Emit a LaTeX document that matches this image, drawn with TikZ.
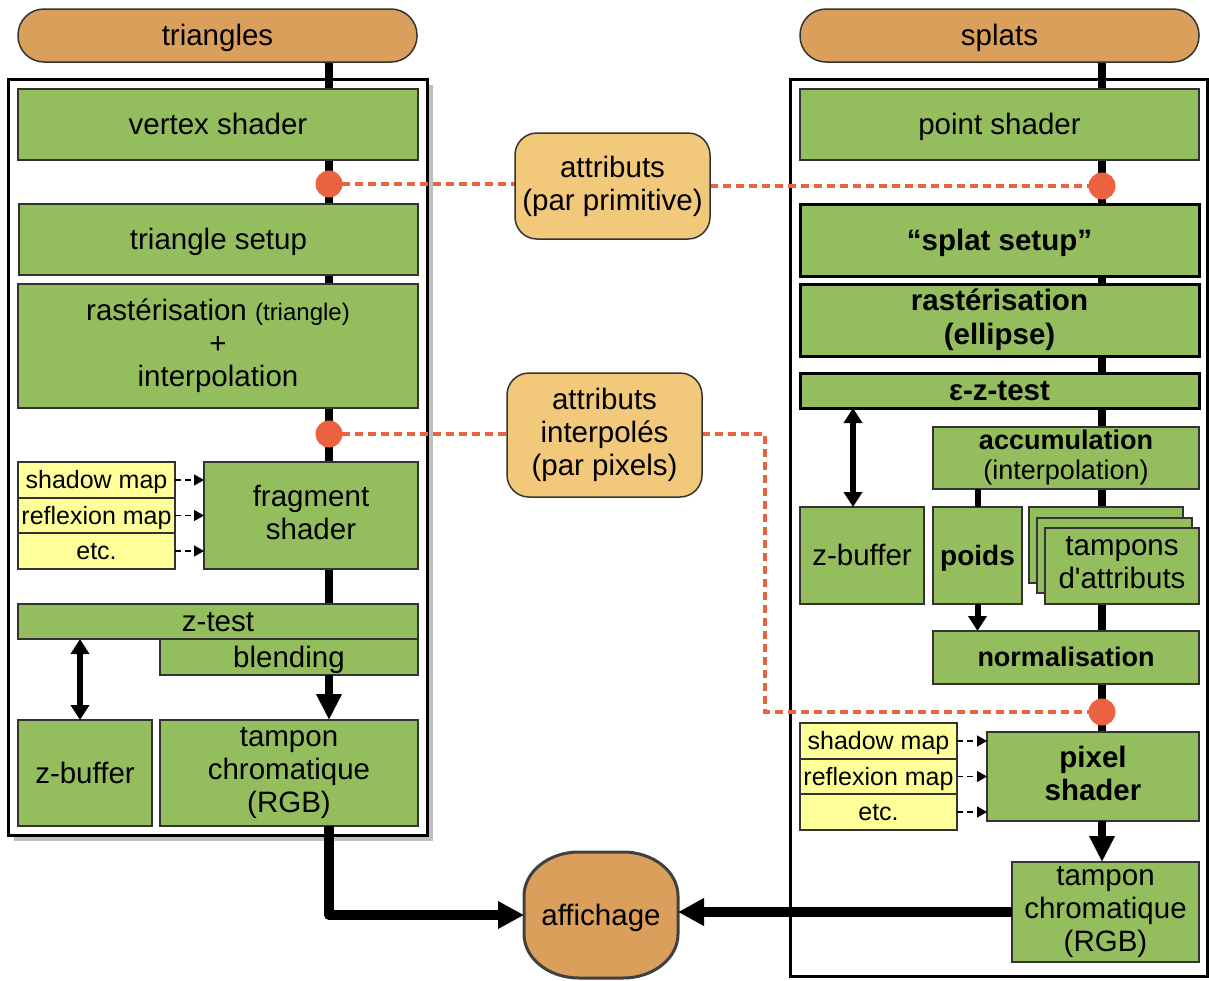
\documentclass[tikz,border=0pt]{standalone}
\usepackage{fontspec}
\setmainfont{Liberation Sans}
\usetikzlibrary{arrows.meta}
\definecolor{boxgreen}{RGB}{148,189,94}
\definecolor{pillorange}{RGB}{217,159,91}
\definecolor{notecolor}{RGB}{242,200,122}
\definecolor{mapyellow}{RGB}{255,255,153}
\definecolor{linkred}{RGB}{235,98,64}
\definecolor{shadowgray}{RGB}{191,191,191}
\pgfdeclarelayer{frames}
\pgfdeclarelayer{spines}
\pgfsetlayers{frames,spines,main}
% line box of the sans font: ascent and descent
\newcommand\lineboxtop{\rule{0pt}{0.9em}}
\newcommand\lineboxbot{\rule[-0.21em]{0pt}{0pt}}
% straight apostrophe glyph
\newcommand\straightquote{\XeTeXglyph\XeTeXglyphindex "quotesingle"\relax}
\tikzset{
  corners/.style n args={4}{rectangle, inner sep=0pt, outer sep=0pt,
    minimum width={#3-#1}, minimum height={#4-#2},
    at={({(#1+#3)/2},{(#2+#4)/2})}},
  txt/.style={align=center, execute at begin node=\lineboxtop,
    execute at end node=\lineboxbot},
  stage/.style={txt, fill=boxgreen, draw=black!80, line width=1.3pt,
    font=\fontsize{29.5}{33}\selectfont},
  keystage/.style={stage, draw=black, line width=3pt,
    font=\fontsize{29.5}{34}\selectfont\bfseries},
  mapbox/.style={txt, fill=mapyellow, draw=black!80, line width=1.3pt,
    font=\fontsize{25}{28}\selectfont},
  pill/.style={txt, fill=pillorange, draw=black!80, line width=1.5pt,
    rounded corners=26pt, font=\fontsize{29.5}{33}\selectfont},
  note/.style={txt, fill=notecolor, draw=black!80, line width=1.5pt,
    rounded corners=22pt, font=\fontsize{29.5}{33}\selectfont},
  spine/.style={line width=8pt},
  flow/.style={line width=8pt, -{Triangle[length=26pt,width=24pt]}},
  output/.style={line width=10pt, -{Triangle[length=26pt,width=26pt]}},
  access/.style={line width=6pt,
    {Triangle[length=15pt,width=18pt]}-{Triangle[length=15pt,width=18pt]}},
  feed/.style={line width=6pt, -{Triangle[length=15pt,width=18pt]}},
  lookup/.style={line width=1.5pt, dash pattern=on 6pt off 4pt,
    -{Triangle[length=10pt,width=11pt]}},
  link/.style={line width=4pt, linkred, dash pattern=on 8pt off 5pt},
  joint/.style={circle, fill=linkred, inner sep=0pt, minimum size=27pt},
}
\begin{document}
\begin{tikzpicture}[x=1pt,y=-1pt]
\useasboundingbox (0,0) rectangle (1209,980);
\coordinate (spL) at (329,0);
\coordinate (spR) at (1102,0);
\coordinate (bend) at (765,0);
\coordinate (zlx) at (80,0);
\coordinate (zrx) at (853,0);

% pipeline frames
\begin{pgfonlayer}{frames}
\node[corners={14}{85}{433}{841}, fill=shadowgray] (frameLs) {};
\node[corners={8}{79}{427}{835}, draw, line width=3pt, fill=white] (frameL) {};
\node[corners={790}{79}{1207}{976}, draw, line width=3pt, fill=white] (frameR) {};
\end{pgfonlayer}

% inputs
\node[pill, corners={18}{9}{417}{62}] (triP) {triangles};
\node[pill, corners={800}{9}{1199}{62}] (splP) {splats};

% display: rounded box with elliptic corners
\draw[fill=pillorange, draw=black!75, line width=3pt]
  (579,852) -- (623,852)
  .. controls (653.4,852) and (678,871.7) .. (678,896) -- (678,934)
  .. controls (678,958.3) and (653.4,978) .. (623,978) -- (579,978)
  .. controls (548.6,978) and (524,958.3) .. (524,934) -- (524,896)
  .. controls (524,871.7) and (548.6,852) .. (579,852) -- cycle;
\node[txt, corners={524}{852}{678}{978}, font=\fontsize{29.5}{33}\selectfont] (aff) {affichage};

% triangle pipeline
\node[stage, corners={18}{89}{418}{160}] (vert) {vertex shader};
\node[stage, corners={19}{204}{418}{275}] (tsetup) {triangle setup};
\node[stage, corners={18}{284}{418}{408}] (rastL)
  {rastérisation {\fontsize{24}{33}\selectfont(triangle)}\\+\\interpolation};
\node[mapbox, corners={18}{462}{175}{498}] (sm1) {shadow map};
\node[mapbox, corners={18}{498}{175}{533}] (rm1) {reflexion map};
\node[mapbox, corners={18}{533}{175}{569}] (et1) {etc.};
\node[stage, corners={204}{462}{418}{569}] (frag) {fragment\\shader};
\node[stage, corners={18}{604}{418}{639}] (ztest) {z-test};
\node[stage, corners={160}{639}{418}{675}] (blend) {blending};
\node[stage, corners={18}{720}{152}{826}] (zbufL) {z-buffer};
\node[stage, corners={160}{720}{418}{826}] (tampL) {tampon\\chromatique\\(RGB)};

% splat pipeline
\node[stage, corners={800}{89}{1199}{160}] (pshade) {point shader};
\node[keystage, corners={800}{204}{1199}{276}] (ssetup) {“splat setup”};
\node[keystage, corners={800}{284}{1199}{356}] (rastR) {rastérisation\\(ellipse)};
\node[keystage, corners={800}{373}{1199}{408}] (eztest) {ε-z-test};
\node[stage, corners={933}{427}{1199}{489}, font=\fontsize{27}{30}\selectfont] (accum)
  {\textbf{accumulation}\\(interpolation)};
\node[stage, corners={800}{507}{924}{604}] (zbufR) {z-buffer};
\node[stage, corners={933}{507}{1022}{604}, font=\fontsize{28}{33}\selectfont\bfseries] (poids) {poids};
\node[stage, corners={1029}{507}{1183}{583}] (tb1) {};
\node[stage, corners={1037}{518}{1192}{593}] (tb2) {};
\node[stage, corners={1045}{528}{1199}{604}] (tb3) {tampons\\d\straightquote attributs};
\node[stage, corners={933}{631}{1199}{684}, font=\fontsize{27}{30}\selectfont\bfseries] (norm) {normalisation};
\node[mapbox, corners={800}{723}{957}{759}] (sm2) {shadow map};
\node[mapbox, corners={800}{759}{957}{794}] (rm2) {reflexion map};
\node[mapbox, corners={800}{794}{957}{830}] (et2) {etc.};
\node[stage, corners={987}{732}{1199}{821}, font=\fontsize{29.5}{33}\selectfont\bfseries] (pix) {pixel\\shader};
\node[stage, corners={1012}{862}{1199}{962}] (tampR) {tampon\\chromatique\\(RGB)};

% attribute notes
\node[note, corners={515}{133}{710}{239}] (attr1) {attributs\\(par primitive)};
\node[note, corners={507}{373}{702}{497}] (attr2) {attributs\\interpolés\\(par pixels)};

% main data flow
\begin{pgfonlayer}{spines}
\draw[spine] (triP.south -| spL) -- (blend.south -| spL);
\draw[spine] (splP.south -| spR) -- (pix.south -| spR);
\end{pgfonlayer}
\draw[flow] (blend.south -| spL) -- (tampL.north -| spL);
\draw[flow] (pix.south -| spR) -- (tampR.north -| spR);
\draw[output, line join=round] (tampL.south -| spL) |- (aff.west);
\draw[output] (tampR.west) -- (tampR.west -| aff.east);

% depth buffer access and weights
\draw[access] (ztest.south -| zlx) -- (zbufL.north -| zlx);
\draw[access] (eztest.south -| zrx) -- (zbufR.north -| zrx);
\draw[line width=6pt] (accum.south -| poids.north) -- (poids.north);
\draw[feed] (poids.south) -- (poids.south |- norm.north);

% texture lookups
\draw[lookup] (sm1.east) -- (sm1.east -| frag.west);
\draw[lookup] (rm1.east) -- (rm1.east -| frag.west);
\draw[lookup] (et1.east) -- (et1.east -| frag.west);
\draw[lookup] (sm2.east) -- (sm2.east -| pix.west);
\draw[lookup] (rm2.east) -- (rm2.east -| pix.west);
\draw[lookup] (et2.east) -- (et2.east -| pix.west);

% attribute links
\node[joint] (d1) at (329,184) {};
\node[joint] (d2) at (1102,186) {};
\node[joint] (d3) at (329,434) {};
\node[joint] (d4) at (1102,712) {};
\begin{pgfonlayer}{spines}
\draw[link] (d1.center) -- (d1.center -| attr1.west);
\draw[link] (attr1.east |- d2.center) -- (d2.center);
\draw[link] (d3.center) -- (d3.center -| attr2.west);
\draw[link] (attr2.east |- d3.center) -| (bend |- d4.center) -- (d4.center);
\end{pgfonlayer}
\end{tikzpicture}
\end{document}
